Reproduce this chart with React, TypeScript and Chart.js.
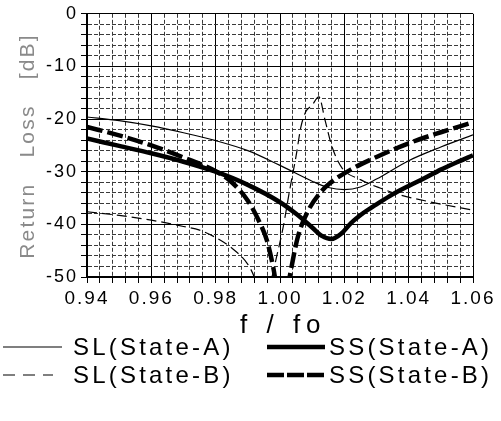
import React, { useEffect, useRef } from 'react';
import { Chart, registerables } from 'chart.js';

Chart.register(...registerables);

const FONT = "'Liberation Sans', Arial, Helvetica, sans-serif";

// Axis ranges / tick steps
const xMin = 0.94;
const xMax = 1.06;
const xMinorStep = 0.004;
const yMin = -50;
const yMax = 0;
const yMinorStep = 2;

// Titles and legend labels
const yTitle = 'Return Loss [dB]';
const xTitle = 'f / fo';
const seriesLabels = ['SL(State-A)', 'SS(State-A)', 'SL(State-B)', 'SS(State-B)'];

// SL(State-A): thin solid
const fSLA = [0.94, 0.95, 0.96, 0.97, 0.98, 0.99, 1.0, 1.01, 1.015, 1.02, 1.025, 1.03, 1.04, 1.05, 1.06];
const dbSLA = [-19.6, -20.3, -21.3, -22.6, -24.1, -26.0, -28.8, -31.8, -33.0, -33.4, -32.9, -31.4, -27.9, -25.3, -23.0];

// SS(State-A): thick solid
const fSSA = [0.94, 0.95, 0.96, 0.97, 0.98, 0.99, 1.0, 1.005, 1.01, 1.013, 1.016, 1.019, 1.022, 1.026, 1.03, 1.035, 1.04, 1.045, 1.05, 1.055, 1.06];
const dbSSA = [-23.7, -25.1, -26.5, -28.1, -30.0, -32.5, -35.8, -38.0, -40.6, -42.2, -42.8, -41.8, -39.8, -37.8, -36.2, -34.3, -32.7, -31.2, -29.6, -28.2, -26.9];

// SL(State-B): thin dashed
const fSLB = [0.94, 0.95, 0.96, 0.97, 0.975, 0.98, 0.985, 0.99, 0.992, 0.995, 0.9975, 0.999, 1.001, 1.003, 1.005, 1.0065, 1.008, 1.0099, 1.0121, 1.014, 1.0162, 1.0193, 1.025, 1.0311, 1.0373, 1.0488, 1.06];
const dbSLB = [-37.6, -38.3, -39.2, -40.4, -41.1, -42.5, -44.5, -47.6, -50.0, -56.0, -50.0, -46.0, -40.5, -33.5, -27.0, -21.5, -18.6, -17.4, -15.8, -20.2, -25.3, -29.3, -31.5, -33.1, -34.4, -36.0, -37.3];

// SS(State-B): thick dashed
const fSSB = [0.94, 0.95, 0.96, 0.97, 0.98, 0.985, 0.99, 0.993, 0.996, 0.998, 1.0007, 1.003, 1.0055, 1.0085, 1.0125, 1.0155, 1.022, 1.03, 1.04, 1.05, 1.06];
const dbSSB = [-21.5, -23.1, -25.0, -27.3, -29.9, -32.0, -35.5, -38.8, -43.2, -48.5, -58.0, -50.0, -42.5, -37.7, -34.0, -32.2, -29.6, -27.2, -24.6, -22.5, -20.6];

const isMajorX = (v: number) => Math.round(v * 1000) % 20 === 0;
const isMajorY = (v: number) => Math.round(v) % 10 === 0;

const toPts = (xs: number[], ys: number[]) => xs.map((x, i) => ({ x, y: ys[i] }));

const spacingPlugin = {
  id: 'tickLetterSpacing',
  beforeDraw(chart: any) {
    chart.ctx.letterSpacing = '2px';
  },
  afterDraw(chart: any) {
    chart.ctx.letterSpacing = '0px';
  },
};

const MINOR_GRID = '#3a3a3a';
const MINOR_DASH = [4, 2];

export default function App() {
  const canvasRef = useRef<HTMLCanvasElement | null>(null);

  useEffect(() => {
    const canvas = canvasRef.current;
    if (!canvas) return;
    const chart = new Chart(canvas, {
      type: 'line',
      data: {
        datasets: [
          {
            label: seriesLabels[2],
            data: toPts(fSLB, dbSLB),
            borderColor: '#000',
            borderWidth: 1.2,
            borderDash: [10, 5],
          },
          {
            label: seriesLabels[0],
            data: toPts(fSLA, dbSLA),
            borderColor: '#000',
            borderWidth: 1.2,
          },
          {
            label: seriesLabels[1],
            data: toPts(fSSA, dbSSA),
            borderColor: '#000',
            borderWidth: 4.5,
          },
          {
            label: seriesLabels[3],
            data: toPts(fSSB, dbSSB),
            borderColor: '#000',
            borderWidth: 4.5,
            borderDash: [16, 5],
          },
        ],
      },
      options: {
        responsive: false,
        maintainAspectRatio: false,
        animation: false,
        events: [],
        layout: { padding: { left: 0, right: 28, top: 13, bottom: 114 } },
        elements: {
          point: { radius: 0 },
          line: { cubicInterpolationMode: 'monotone', fill: false },
        },
        datasets: { line: { clip: 0 } } as any,
        plugins: {
          legend: { display: false },
          tooltip: { enabled: false },
        },
        scales: {
          x: {
            type: 'linear',
            min: xMin,
            max: xMax,
            afterFit: (s: any) => {
              s.height = 30;
            },
            ticks: {
              stepSize: xMinorStep,
              autoSkip: false,
              maxRotation: 0,
              minRotation: 0,
              padding: 4,
              color: '#000',
              font: { family: FONT, size: 19 },
              callback: (v: any) => {
                const n = Number(v);
                return isMajorX(n) ? (Math.round(n * 100) / 100).toFixed(2) : '';
              },
            },
            grid: {
              color: (c: any) => (c.tick && !isMajorX(c.tick.value) ? MINOR_GRID : '#000'),
              lineWidth: 1,
              tickLength: 6,
              tickColor: '#000',
            },
            border: {
              color: '#000',
              width: 2,
              dash: (c: any) => (c.tick && !isMajorX(c.tick.value) ? MINOR_DASH : []),
            } as any,
          },
          y: {
            type: 'linear',
            min: yMin,
            max: yMax,
            afterFit: (s: any) => {
              s.width = 87;
            },
            ticks: {
              stepSize: yMinorStep,
              autoSkip: false,
              padding: 3,
              color: '#000',
              font: { family: FONT, size: 18 },
              callback: (v: any) => {
                const n = Math.round(Number(v));
                return isMajorY(n) ? String(n) : '';
              },
            },
            grid: {
              color: (c: any) => (c.tick && !isMajorY(c.tick.value) ? MINOR_GRID : '#000'),
              lineWidth: 1,
              tickLength: 6,
              tickColor: '#000',
            },
            border: {
              color: '#000',
              width: 2,
              dash: (c: any) => (c.tick && !isMajorY(c.tick.value) ? MINOR_DASH : []),
            } as any,
          },
        },
      },
      plugins: [spacingPlugin],
    } as any);
    return () => chart.destroy();
  }, []);

  return (
    <div
      style={{
        position: 'absolute',
        left: 0,
        top: 0,
        width: 501,
        height: 421,
        background: '#fff',
        overflow: 'hidden',
      }}
    >
      <canvas
        ref={canvasRef}
        width={501}
        height={421}
        style={{ position: 'absolute', left: 0, top: 0, width: 501, height: 421 }}
      />
      <svg
        width={501}
        height={421}
        style={{ position: 'absolute', left: 0, top: 0, pointerEvents: 'none' }}
        fontFamily={FONT}
      >
        <text
          transform="translate(34,146) rotate(-90)"
          textAnchor="middle"
          fontSize={21}
          fill="#8a8a8a"
          letterSpacing={2.2}
          wordSpacing={17}
        >
          {yTitle}
        </text>
        <text x={240} y={333} fontSize={26} fill="#000" letterSpacing={6}>
          {xTitle}
        </text>
        {/* Legend row 1 */}
        <line x1={3} y1={347} x2={62} y2={347} stroke="#000" strokeWidth={1.2} />
        <text x={73} y={355} fontSize={24} fill="#000" letterSpacing={3.2}>
          {seriesLabels[0]}
        </text>
        <line x1={267} y1={347} x2={325} y2={347} stroke="#000" strokeWidth={4.5} />
        <text x={329} y={355} fontSize={24} fill="#000" letterSpacing={3.2}>
          {seriesLabels[1]}
        </text>
        {/* Legend row 2 */}
        <line x1={3} y1={375} x2={53} y2={375} stroke="#000" strokeWidth={1.2} strokeDasharray="12 8" />
        <text x={73} y={383} fontSize={24} fill="#000" letterSpacing={3.2}>
          {seriesLabels[2]}
        </text>
        <line x1={267} y1={375} x2={325} y2={375} stroke="#000" strokeWidth={4.5} strokeDasharray="17 3" />
        <text x={329} y={383} fontSize={24} fill="#000" letterSpacing={3.2}>
          {seriesLabels[3]}
        </text>
      </svg>
    </div>
  );
}
